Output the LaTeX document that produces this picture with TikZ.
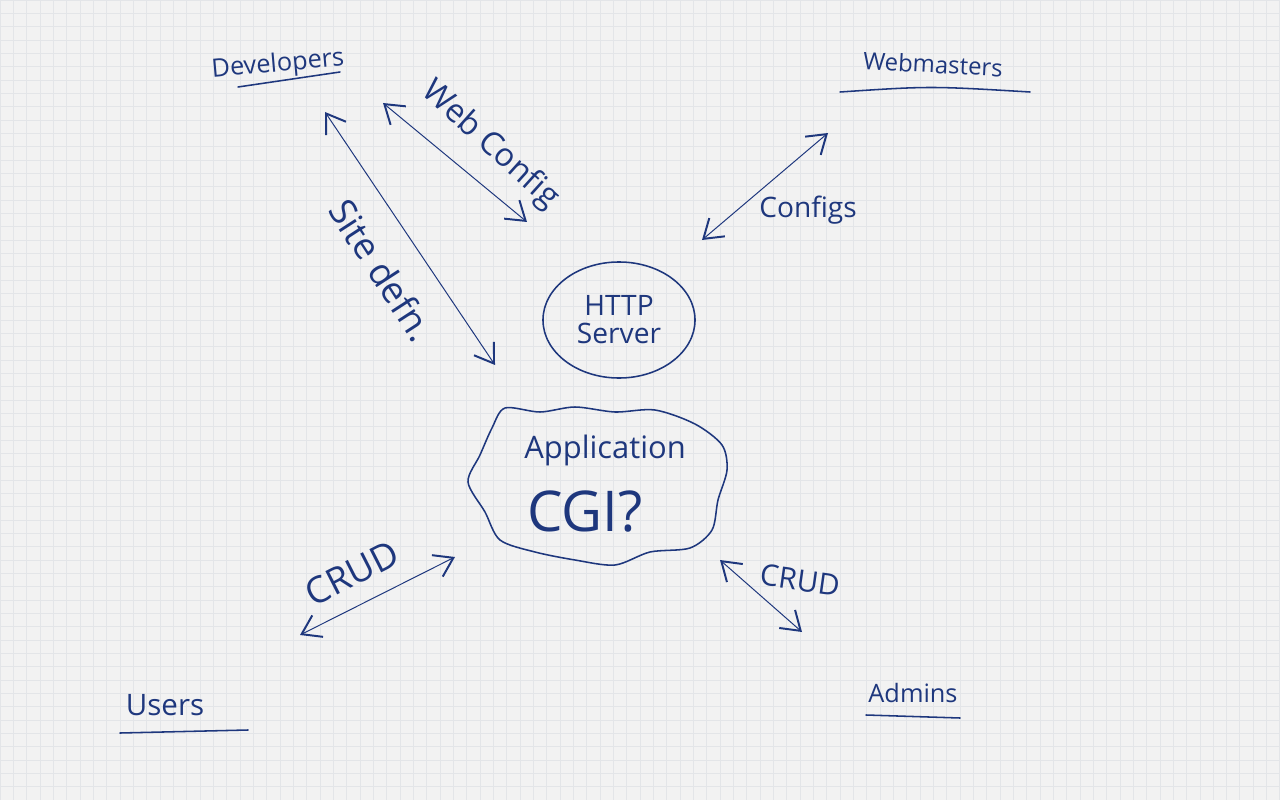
\documentclass[tikz,border=0pt]{standalone}
\usepackage{fontspec}
\setsansfont{Open Sans}
\usetikzlibrary{arrows.meta,shapes.geometric}
\definecolor{ink}{RGB}{30,55,125}
\definecolor{paper}{RGB}{242,242,242}
\definecolor{gridink}{RGB}{227,229,232}
\tikzset{
  hand/.style={text=ink, inner sep=0pt, font=\sffamily\fontsize{#1}{#1}\selectfont},
  pen/.style={draw=ink, line width=1.1pt, line cap=round, line join=round},
  twoway/.style={draw=ink, line width=0.7pt, line cap=round,
    {Straight Barb[length=4.5mm,width=6mm,line width=1.4pt]}-{Straight Barb[length=4.5mm,width=6mm,line width=1.4pt]}},
  gridline/.style={draw=gridink, line width=0.3pt}
}
\begin{document}
\begin{tikzpicture}[x=0.025cm, y=-0.025cm]
    \fill[paper] (0,0) rectangle (1280,800);
    \useasboundingbox (0,0) rectangle (1280,800);
    \foreach \gx in {0,13.33,...,1280}
        \draw[gridline] (\gx,0) -- (\gx,800);
    \foreach \gy in {0,13.33,...,800}
        \draw[gridline] (0,\gy) -- (1280,\gy);

    \node[hand=18, rotate=5] (dev) at (278,65) {Developers};
    \draw[pen] (238,87) -- (340,72);
    \node[hand=17, rotate=-3] (web) at (933,64) {Webmasters};
    \draw[pen] (840,92) .. controls (930,86) .. (1030,92);
    \node[hand=21] (users) at (165,705) {Users};
    \draw[pen] (120,733) -- (248,730);
    \node[hand=18] (admins) at (913,693) {Admins};
    \draw[pen] (866,715) -- (960,718);

    \node[pen, ellipse, minimum width=3.8cm, minimum height=2.9cm,
          hand=20, align=center] (http) at (619,320) {HTTP\\Server};

    \draw[pen] plot[smooth cycle] coordinates {
        (505,408) (540,412) (575,407) (615,412) (655,410) (695,424)
        (722,445) (727,470) (718,500) (712,530) (690,548) (650,552)
        (615,565) (575,560) (535,552) (500,540) (485,512) (468,482)
        (480,455) (492,428)};
    \node[hand=22] (app) at (605,450) {Application};
    \node[hand=40] (cgi) at (585,512) {CGI?};

    \coordinate (sitetop) at (325,112);
    \coordinate (sitebot) at (495,365);
    \coordinate (webtop) at (383,103);
    \coordinate (webbot) at (527,222);
    \coordinate (conflo) at (702,240);
    \coordinate (confhi) at (828,133);
    \coordinate (userend) at (300,635);
    \coordinate (userapp) at (455,557);
    \coordinate (adminapp) at (720,560);
    \coordinate (adminend) at (802,632);

    \draw[twoway] (sitetop) -- (sitebot);
    \draw[twoway] (webtop) -- (webbot);
    \draw[twoway] (conflo) -- (confhi);
    \draw[twoway] (userend) -- (userapp);
    \draw[twoway] (adminapp) -- (adminend);

    \node[hand=26, rotate=-57] (site) at (382,270) {Site defn.};
    \node[hand=23, rotate=-42] (webconf) at (490,145) {Web Config};
    \node[hand=20] (conf) at (808,210) {Configs};
    \node[hand=26, rotate=27] (crudu) at (352,573) {CRUD};
    \node[hand=21, rotate=-8] (cruda) at (800,580) {CRUD};
\end{tikzpicture}
\end{document}
